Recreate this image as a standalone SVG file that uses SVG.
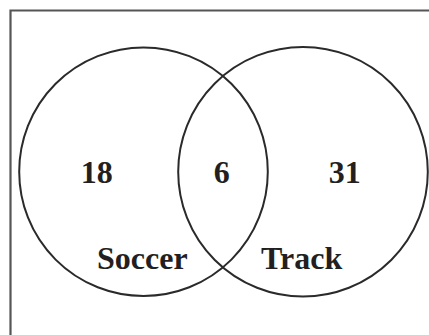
<svg xmlns="http://www.w3.org/2000/svg" width="429" height="335" viewBox="0 0 429 335">
<style>
.c{fill:none;stroke:#2a2a2a;stroke-width:2}
.t{font-family:"Liberation Serif",serif;font-weight:bold;font-size:32px;fill:#231f20;text-anchor:middle}
</style>
<rect width="429" height="335" fill="#fff"/>
<g id="frame"><path d="M10.5,340 V10.5 H440" fill="none" stroke="#555" stroke-width="2.2"/></g>
<g id="soccer"><circle class="c" cx="143.5" cy="171.7" r="124.3"/><text class="t" x="142.3" y="269">Soccer</text></g>
<g id="track"><circle class="c" cx="303" cy="171.7" r="124.8"/><text class="t" x="301.7" y="269">Track</text></g>
<g id="labels">
<text class="t" x="96.7" y="182.5">18</text>
<text class="t" x="221.7" y="182.5">6</text>
<text class="t" x="344.7" y="182.5">31</text>
</g>
<g id="connectors"/>
</svg>
